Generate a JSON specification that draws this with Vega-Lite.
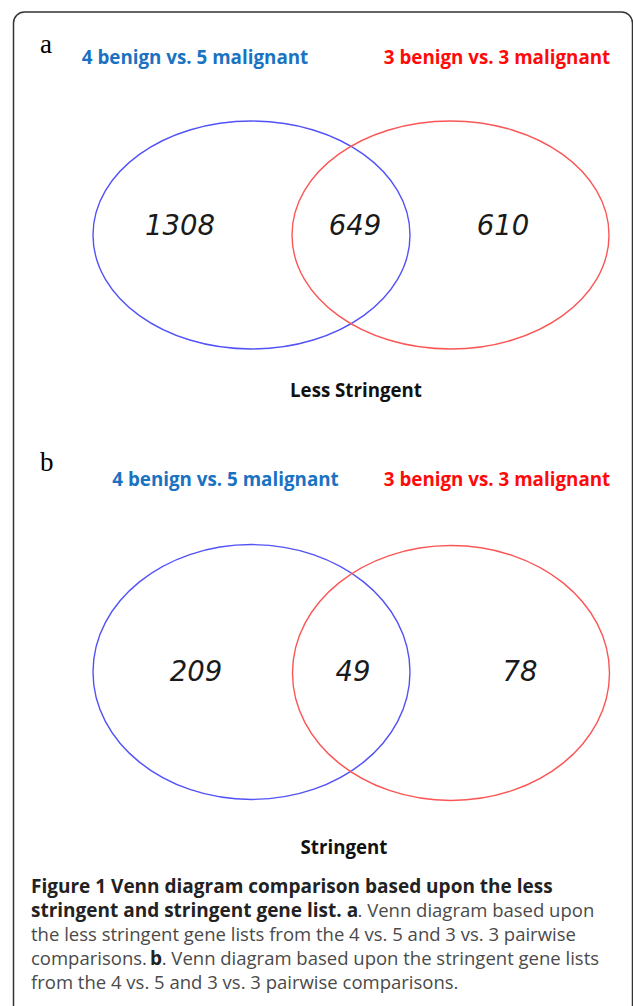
{
  "$schema": "https://vega.github.io/schema/vega-lite/v6.json",
  "width": 633,
  "height": 1006,
  "autosize": "none",
  "padding": 0,
  "background": "white",
  "config": {"view": {"stroke": null}},
  "layer": [
    {
      "data": {"values": [{"x": 13.5, "x2": 632.5, "y": 12, "y2": 1030}]},
      "mark": {"type": "rect", "fill": null, "stroke": "#333333", "strokeWidth": 1.5, "cornerRadius": 11},
      "encoding": {
        "x": {"field": "x", "type": "quantitative", "scale": {"domain": [0, 633], "nice": false, "zero": false}, "axis": null},
        "x2": {"field": "x2"},
        "y": {"field": "y", "type": "quantitative", "scale": {"domain": [0, 1006], "nice": false, "zero": false, "reverse": true}, "axis": null},
        "y2": {"field": "y2"}
      }
    },
    {
      "data": {"values": [
        {"set": "4 benign vs. 5 malignant", "x": 251.5, "y": 235},
        {"set": "3 benign vs. 3 malignant", "x": 450.5, "y": 235}
      ]},
      "mark": {"type": "point", "filled": false, "opacity": 1, "strokeWidth": 1.4, "size": 100489,
        "shape": "M -1 0 C -1 -0.397 -0.5523 -0.719 0 -0.719 C 0.5523 -0.719 1 -0.397 1 0 C 1 0.397 0.5523 0.719 0 0.719 C -0.5523 0.719 -1 0.397 -1 0 Z"},
      "encoding": {
        "x": {"field": "x", "type": "quantitative", "axis": null},
        "y": {"field": "y", "type": "quantitative", "axis": null},
        "stroke": {"field": "set", "type": "nominal", "scale": {"domain": ["4 benign vs. 5 malignant", "3 benign vs. 3 malignant"], "range": ["#5252f7", "#fb5656"]}, "legend": null}
      }
    },
    {
      "data": {"values": [
        {"set": "4 benign vs. 5 malignant", "x": 251.5, "y": 672},
        {"set": "3 benign vs. 3 malignant", "x": 451, "y": 673}
      ]},
      "mark": {"type": "point", "filled": false, "opacity": 1, "strokeWidth": 1.4, "size": 100489,
        "shape": "M -1 0 C -1 -0.444 -0.5523 -0.804 0 -0.804 C 0.5523 -0.804 1 -0.444 1 0 C 1 0.444 0.5523 0.804 0 0.804 C -0.5523 0.804 -1 0.444 -1 0 Z"},
      "encoding": {
        "x": {"field": "x", "type": "quantitative", "axis": null},
        "y": {"field": "y", "type": "quantitative", "axis": null},
        "stroke": {"field": "set", "type": "nominal", "legend": null}
      }
    },
    {
      "data": {"values": [
        {"label": "a", "x": 40, "y": 53},
        {"label": "b", "x": 40, "y": 471}
      ]},
      "mark": {"type": "text", "font": "Liberation Serif", "fontSize": 27, "align": "left", "baseline": "alphabetic", "color": "#000000"},
      "encoding": {
        "x": {"field": "x", "type": "quantitative", "axis": null},
        "y": {"field": "y", "type": "quantitative", "axis": null},
        "text": {"field": "label"}
      }
    },
    {
      "data": {"values": [
        {"set": "4 benign vs. 5 malignant", "x": 195, "y": 64},
        {"set": "3 benign vs. 3 malignant", "x": 497, "y": 64},
        {"set": "4 benign vs. 5 malignant", "x": 225.5, "y": 486},
        {"set": "3 benign vs. 3 malignant", "x": 497, "y": 486}
      ]},
      "mark": {"type": "text", "font": "Open Sans", "fontWeight": "bold", "fontSize": 18.8, "align": "center", "baseline": "alphabetic"},
      "encoding": {
        "x": {"field": "x", "type": "quantitative", "axis": null},
        "y": {"field": "y", "type": "quantitative", "axis": null},
        "text": {"field": "set"},
        "color": {"field": "set", "type": "nominal", "scale": {"domain": ["4 benign vs. 5 malignant", "3 benign vs. 3 malignant"], "range": ["#1a72c2", "#ff0a0a"]}, "legend": null}
      }
    },
    {
      "data": {"values": [
        {"count": 1308, "x": 180, "y": 235},
        {"count": 649, "x": 355, "y": 235},
        {"count": 610, "x": 503, "y": 235},
        {"count": 209, "x": 196, "y": 681},
        {"count": 49, "x": 353, "y": 681},
        {"count": 78, "x": 520, "y": 681}
      ]},
      "mark": {"type": "text", "font": "DejaVu Sans", "fontStyle": "italic", "fontSize": 27.5, "align": "center", "baseline": "alphabetic", "color": "#1a1a1a"},
      "encoding": {
        "x": {"field": "x", "type": "quantitative", "axis": null},
        "y": {"field": "y", "type": "quantitative", "axis": null},
        "text": {"field": "count"}
      }
    },
    {
      "data": {"values": [
        {"label": "Less Stringent", "x": 356, "y": 397},
        {"label": "Stringent", "x": 344, "y": 854}
      ]},
      "mark": {"type": "text", "font": "Open Sans", "fontWeight": "bold", "fontSize": 18.7, "align": "center", "baseline": "alphabetic", "color": "#111111"},
      "encoding": {
        "x": {"field": "x", "type": "quantitative", "axis": null},
        "y": {"field": "y", "type": "quantitative", "axis": null},
        "text": {"field": "label"}
      }
    },
    {
      "data": {"values": [
        {"label": "Figure 1 Venn diagram comparison based upon the less", "x": 31, "y": 893},
        {"label": "stringent and stringent gene list. a", "x": 31, "y": 917},
        {"label": "b", "x": 150, "y": 965}
      ]},
      "mark": {"type": "text", "font": "Open Sans", "fontWeight": "bold", "fontSize": 19, "align": "left", "baseline": "alphabetic", "color": "#222222"},
      "encoding": {
        "x": {"field": "x", "type": "quantitative", "axis": null},
        "y": {"field": "y", "type": "quantitative", "axis": null},
        "text": {"field": "label"}
      }
    },
    {
      "data": {"values": [
        {"label": ". Venn diagram based upon", "x": 357.5, "y": 917},
        {"label": "the less stringent gene lists from the 4 vs. 5 and 3 vs. 3 pairwise", "x": 31, "y": 941},
        {"label": "comparisons.", "x": 31, "y": 965},
        {"label": ". Venn diagram based upon the stringent gene lists", "x": 161.7, "y": 965},
        {"label": "from the 4 vs. 5 and 3 vs. 3 pairwise comparisons.", "x": 31, "y": 989}
      ]},
      "mark": {"type": "text", "font": "Open Sans", "fontSize": 18.5, "align": "left", "baseline": "alphabetic", "color": "#4a4a4a"},
      "encoding": {
        "x": {"field": "x", "type": "quantitative", "axis": null},
        "y": {"field": "y", "type": "quantitative", "axis": null},
        "text": {"field": "label"}
      }
    }
  ]
}
